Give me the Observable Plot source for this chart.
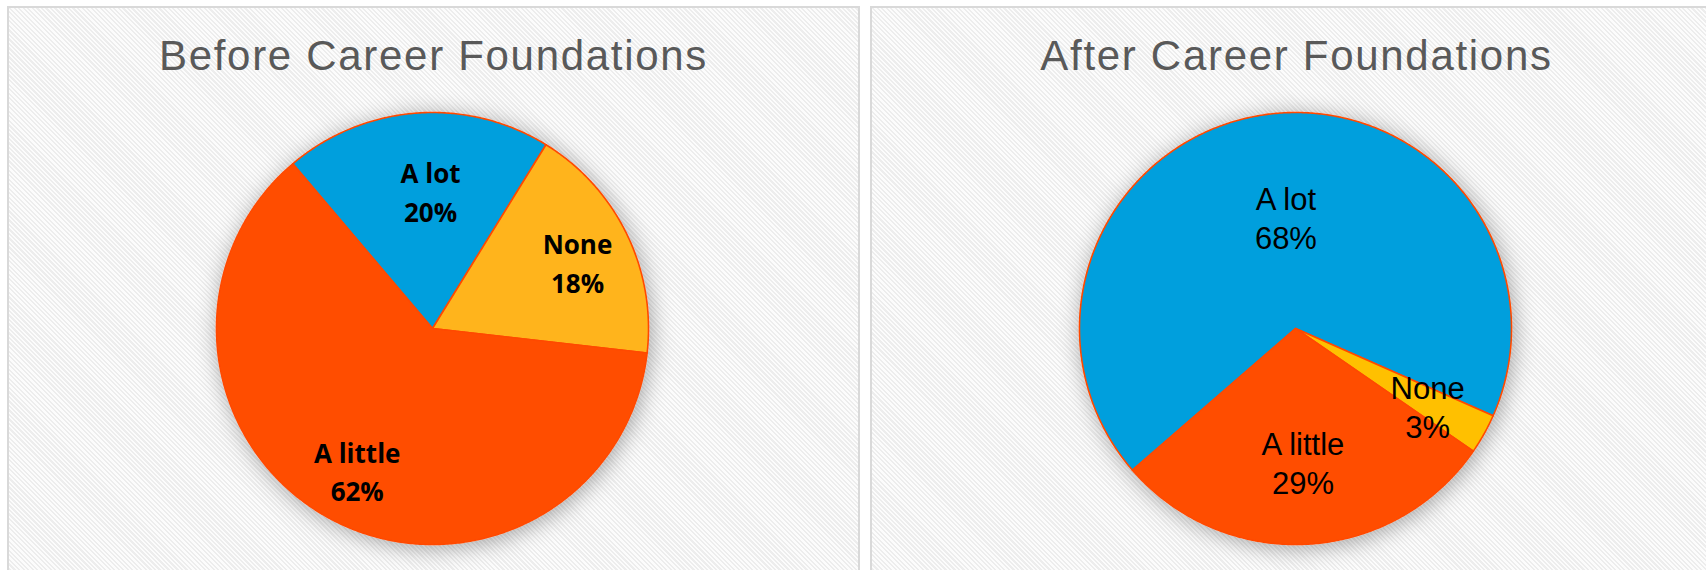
<!DOCTYPE html>
<html>
<head>
<meta charset="utf-8">
<script src="https://cdn.jsdelivr.net/npm/d3@7"></script>
<script src="https://cdn.jsdelivr.net/npm/@observablehq/plot@0.6"></script>
<style>
  html, body { margin: 0; padding: 0; background: #ffffff; }
  body { width: 1706px; height: 570px; overflow: hidden; position: relative; }
  .panel {
    position: absolute; top: 6px; width: 849px; height: 600px;
    border: 2px solid #d9d9d9; box-sizing: content-box;
    background: repeating-linear-gradient(45deg, #fcfcfc 0px, #fcfcfc 1.6px, #ededed 1.6px, #ededed 3.2px);
  }
  .title {
    position: absolute; left: 0; width: 100%; text-align: center;
    font-family: "Liberation Sans", Arial, sans-serif; font-size: 42px; line-height: 42px;
    letter-spacing: 1.7px; color: #595959; top: 27px; white-space: nowrap;
  }
  .chart { position: absolute; left: 0; top: 0; }
</style>
</head>
<body>
<div class="panel" id="p0" style="left:7px"><div class="title">Before Career Foundations</div><div class="chart"></div></div>
<div class="panel" id="p1" style="left:870px"><div class="title">After Career Foundations</div><div class="chart"></div></div>
<script>
// ---- data ----
const categories = ["A lot", "None", "A little"];
const beforeValues = [20, 18, 62];
const afterValues = [68, 3, 29];
const beforeColors = ["#009fdd", "#ffb41f", "#ff4e00"];
const afterColors = ["#009fdd", "#ffc000", "#ff4e00"];
// first-slice rotation (degrees clockwise from 12 o'clock)
const beforeStart = -40.3;
const afterStart = -131;
// label placement (fraction of radius, angle tweak in degrees)
const beforeLabelR = [0.64, 0.74, 0.74];
const beforeLabelShift = [3.5, 1, 0];
const afterLabelR = [0.52, 0.71, 0.62];
const afterLabelShift = [3.7, 1.3, 0];

function buildSlices(values, start) {
  const total = d3.sum(values);
  let a = start;
  return values.map((v, i) => {
    const a0 = a, a1 = a + v / total * 360;
    a = a1;
    return {cat: categories[i], v, a0, a1};
  });
}

function polygonPoints(slices) {
  const pts = [];
  for (const s of slices) {
    pts.push({cat: s.cat, x: 0, y: 0});
    const n = Math.max(2, Math.ceil((s.a1 - s.a0) / 0.5));
    for (let k = 0; k <= n; k++) {
      const t = (s.a0 + (s.a1 - s.a0) * k / n) * Math.PI / 180;
      pts.push({cat: s.cat, x: Math.sin(t), y: Math.cos(t)});
    }
  }
  return pts;
}

function labelPoints(slices, rs, shifts) {
  return slices.map((s, i) => {
    const t = ((s.a0 + s.a1) / 2 + shifts[i]) * Math.PI / 180;
    return {cat: s.cat, x: rs[i] * Math.sin(t), y: rs[i] * Math.cos(t), text: `${s.cat}\n${s.v}%`};
  });
}

function drawPie(el, values, start, colors, rs, shifts, font, idx) {
  const slices = buildSlices(values, start);
  const plot = Plot.plot({
    width: 849,
    height: 562,
    style: {background: "transparent"},
    x: {domain: [-1, 1], range: [207, 639], axis: null},
    y: {domain: [-1, 1], range: [536, 104], axis: null},
    color: {domain: categories, range: colors},
    marks: [
      Plot.line(polygonPoints(slices), {
        x: "x", y: "y", z: "cat", fill: "cat",
        stroke: "#ff4a00", strokeWidth: 1.6,
        curve: "linear-closed"
      }),
      Plot.text(labelPoints(slices, rs, shifts), {
        x: "x", y: "y", text: "text", fill: "#000000",
        fontSize: font.size, fontWeight: font.weight, fontFamily: font.family,
        lineHeight: font.lineHeight, textAnchor: "middle"
      })
    ]
  });
  const svg = d3.select(plot);
  const f = svg.insert("defs", ":first-child").append("filter").attr("id", "sh" + idx)
    .attr("x", "-25%").attr("y", "-25%").attr("width", "150%").attr("height", "150%");
  f.append("feDropShadow").attr("dx", 2).attr("dy", 3).attr("stdDeviation", 11)
    .attr("flood-color", "#000").attr("flood-opacity", 0.34);
  svg.select('g[aria-label="line"]').attr("filter", `url(#sh${idx})`);
  el.appendChild(plot);
}

drawPie(document.querySelector("#p0 .chart"), beforeValues, beforeStart, beforeColors,
  beforeLabelR, beforeLabelShift,
  {size: 26, weight: "bold", family: "'Open Sans', sans-serif", lineHeight: 1.47}, 0);
drawPie(document.querySelector("#p1 .chart"), afterValues, afterStart, afterColors,
  afterLabelR, afterLabelShift,
  {size: 31, weight: "normal", family: "'Liberation Sans', Arial, sans-serif", lineHeight: 1.26}, 1);
</script>
</body>
</html>
